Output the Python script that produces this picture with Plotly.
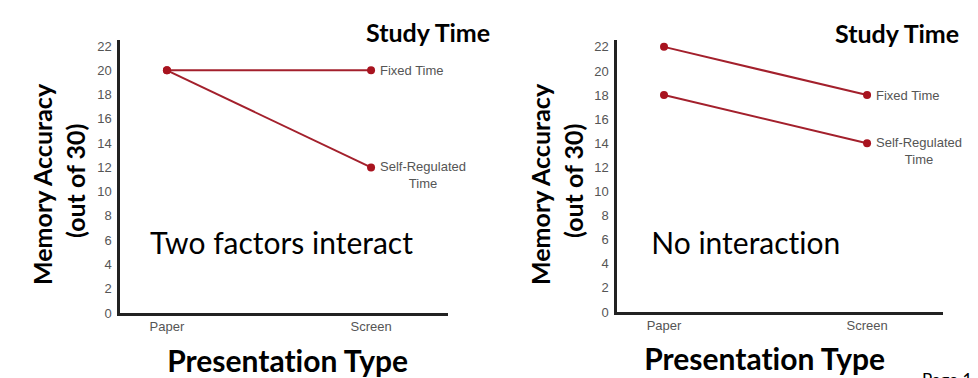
import plotly.graph_objects as go

W, H = 978, 378

categories = ["Paper", "Screen"]
series_names = ["Fixed Time", "Self-Regulated<br>Time"]
left_fixed = [20, 20]
left_self = [20, 12]
right_fixed = [22, 18]
right_self = [18, 14]
ytick_vals = list(range(0, 23, 2))

LINE = "#a3202c"
MARK = "#a8131f"
TICKC = "#555555"
AXC = "#222222"

def px(x):
    return x / W

def py(y):
    return 1 - y / H

fig = go.Figure()

xpos = list(range(len(categories)))

for vals, xa, ya in [(left_fixed, "x", "y"), (left_self, "x", "y"),
                     (right_fixed, "x2", "y2"), (right_self, "x2", "y2")]:
    fig.add_trace(go.Scatter(
        x=xpos, y=vals, xaxis=xa, yaxis=ya, mode="lines+markers",
        line=dict(color=LINE, width=2),
        marker=dict(color=MARK, size=8),
        showlegend=False, hoverinfo="skip", cliponaxis=False))

axis_common = dict(showgrid=False, zeroline=False, showline=True,
                   linecolor=AXC, linewidth=2.5, ticks="", automargin=False,
                   tickfont=dict(family="Liberation Sans, Arial", size=13, color=TICKC))

fig.update_layout(
    width=W, height=H,
    margin=dict(l=0, r=0, t=0, b=0),
    paper_bgcolor="white", plot_bgcolor="white",
    xaxis=dict(domain=[px(120), px(448)], range=[-0.230, 1.377],
               tickvals=xpos, ticktext=categories, anchor="y", **axis_common),
    yaxis=dict(domain=[py(313), py(40)], range=[0, 22.5],
               tickvals=ytick_vals, anchor="x", ticklabelstandoff=3, **axis_common),
    xaxis2=dict(domain=[px(617), px(943)], range=[-0.2315, 1.374],
                tickvals=xpos, ticktext=categories, anchor="y2", **axis_common),
    yaxis2=dict(domain=[py(312), py(40)], range=[0, 22.57],
                tickvals=ytick_vals, anchor="x2", ticklabelstandoff=3, **axis_common),
)

ann = []
lblfont = dict(family="Liberation Sans, Arial", size=13, color=TICKC)
for xa, ya, fixed, selfr in [("x", "y", left_fixed, left_self), ("x2", "y2", right_fixed, right_self)]:
    ann.append(dict(x=1, y=fixed[1], xref=xa, yref=ya, text=series_names[0],
                    showarrow=False, xanchor="left", yanchor="middle", xshift=7,
                    font=lblfont))
    ann.append(dict(x=1, y=selfr[1], xref=xa, yref=ya, text=series_names[1],
                    showarrow=False, xanchor="left", yanchor="top", xshift=7, yshift=10,
                    align="center", font=lblfont))

big = "Lato, Open Sans, sans-serif"
# y-axis titles
for cx1, cx2 in [(42, 75), (540, 573)]:
    ann.append(dict(x=px(cx1), y=py(184), xref="paper", yref="paper", text="<b>Memory Accuracy</b>",
                    showarrow=False, textangle=-90, xanchor="center", yanchor="middle",
                    font=dict(family=big, size=25, color="black")))
    ann.append(dict(x=px(cx2), y=py(181), xref="paper", yref="paper", text="<b>(out of 30)</b>",
                    showarrow=False, textangle=-90, xanchor="center", yanchor="middle",
                    font=dict(family=big, size=25, color="black")))
# x-axis titles
for cx, cy in [(287, 360), (764, 358)]:
    ann.append(dict(x=px(cx), y=py(cy), xref="paper", yref="paper",
                    text="<b>Presentation Type</b>",
                    showarrow=False, xanchor="center", yanchor="middle",
                    font=dict(family=big, size=30, color="black")))
# Study Time
for cx, cy in [(428, 32), (897, 33)]:
    ann.append(dict(x=px(cx), y=py(cy), xref="paper", yref="paper", text="<b>Study Time</b>",
                    showarrow=False, xanchor="center", yanchor="middle",
                    font=dict(family=big, size=25, color="black")))
# panel captions
for txt, cx in [("Two factors interact", 281), ("No interaction", 746)]:
    ann.append(dict(x=px(cx), y=py(242), xref="paper", yref="paper", text=txt,
                    showarrow=False, xanchor="center", yanchor="middle",
                    font=dict(family=big, size=30, color="black")))
# page number (cut off at the bottom edge in the reference)
ann.append(dict(x=px(920), y=py(367), xref="paper", yref="paper", text="Page 1",
                showarrow=False, xanchor="left", yanchor="top",
                font=dict(family=big, size=17, color="black")))

fig.update_layout(annotations=ann)

post = (
    "document.body.style.margin='0';"
    "var s=document.createElement('style');"
    "s.innerHTML='text{font-variant-ligatures:none !important;"
    "font-feature-settings:\"liga\" 0, \"clig\" 0 !important;}';"
    "document.head.appendChild(s);"
)
fig.write_html("out.html", post_script=post, config={"displayModeBar": False})
